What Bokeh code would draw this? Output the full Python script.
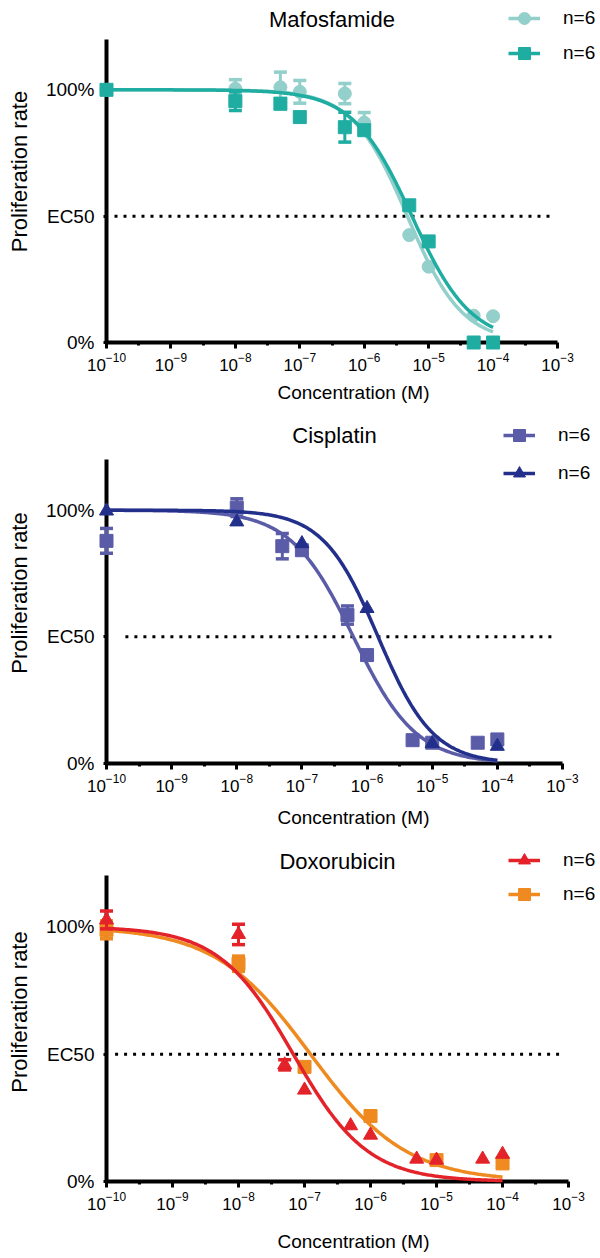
import numpy as np
from bokeh.plotting import figure
from bokeh.layouts import column
from bokeh.models import FixedTicker, Label, Legend, LegendItem, Range1d
from bokeh.embed import file_html
from bokeh.resources import INLINE

FONT = "Liberation Sans"

# ---------------- data ----------------
conc = [1e-10, 1e-8, 5e-8, 1e-7, 5e-7, 1e-6, 5e-6, 1e-5, 5e-5, 1e-4]
conc_six = [1e-10, 1e-8, 1e-7, 1e-6, 1e-5, 1e-4]

# Mafosfamide
maf_light_y = [100, 100.4, 101, 99.2, 98.5, 87.0, 42.5, 30.0, 10.6, 10.4]
maf_light_err = [0, 3.6, 6.0, 4.5, 4.0, 4.0, 0, 0, 0, 0]
maf_dark_y = [100, 95.5, 94.5, 89.2, 85.2, 84.0, 54.3, 40.0, 0, 0]
maf_dark_err = [0, 3.7, 2.0, 0, 5.9, 0, 0, 0, 0, 0]
maf_light_fit = (-5.33, 1.02)   # logEC50, Hill slope
maf_dark_fit = (-5.26, 0.95)

# Cisplatin
cis_sq_y = [87.9, 101.0, 85.8, 84.2, 58.6, 42.8, 9.2, 8.2, 8.2, 9.5]
cis_sq_err = [4.9, 3.5, 5.0, 0, 3.6, 0, 0, 0, 0, 0]
cis_tri_y = [99.7, 95.4, 86.8, 61.2, 7.9, 6.8]
cis_tri_err = [0, 0, 0, 0, 0, 0]
cis_sq_fit = (-6.21, 0.90)
cis_tri_fit = (-5.83, 1.03)

# Doxorubicin
dox_red_y = [102.7, 97.0, 45.8, 35.9, 21.9, 18.2, 8.8, 8.4, 8.8, 10.7]
dox_red_err = [3.5, 4.0, 2.0, 0, 0, 0, 0, 0, 0, 0]
dox_or_y = [98.8, 85.5, 45.0, 25.7, 8.4, 7.1]
dox_or_err = [3.5, 3.0, 0, 0, 0, 0]
dox_red_fit = (-7.17, 0.77)
dox_or_fit = (-6.91, 0.60)

titles = ["Mafosfamide", "Cisplatin", "Doxorubicin"]
legend_label = "n=6"
x_tick_exps = list(range(-10, -2))
y_tick_labels = {0: "0%", 50: "EC50", 100: "100%"}

C_LTEAL = "#93CFCB"
C_TEAL = "#1FADA2"
C_SLATE = "#5A5CA8"
C_NAVY = "#22308C"
C_RED = "#E3222A"
C_ORANGE = "#EE8A20"


def fit_curve(params, x_lo=1e-10, x_hi=1e-4):
    logec50, hill = params
    xs = np.logspace(np.log10(x_lo), np.log10(x_hi), 300)
    ys = 100.0 / (1.0 + 10 ** ((np.log10(xs) - logec50) * hill))
    return xs, ys


def add_series(p, xs, ys, errs, fit, color, marker, size):
    fx, fy = fit_curve(fit)
    line = p.line(fx, fy, line_color=color, line_width=3.5, level="overlay")
    ex = [x for x, e in zip(xs, errs) if e > 0]
    lo = [y - e for y, e in zip(ys, errs) if e > 0]
    hi = [y + e for y, e in zip(ys, errs) if e > 0]
    if ex:
        p.segment(x0=ex, x1=ex, y0=lo, y1=hi, line_color=color, line_width=3, level="overlay")
        p.scatter(ex + ex, lo + hi, marker="dash", size=13, line_color=color,
                  line_width=3.5, level="overlay")
    pts = p.scatter(xs, ys, marker=marker, size=size, fill_color=color,
                    line_color=color, line_width=1, level="overlay")
    return line, pts


def make_panel(title, height, left, bottom, px_per_pct, decade_px, title_y,
               ec50_span, legend_xy, spacing, xlabel_standoff):
    frame_w = 600 - left
    frame_h = height - bottom
    x_end = 10 ** (-10 + frame_w / decade_px)
    y_end = frame_h / px_per_pct
    p = figure(width=600, height=height, x_axis_type="log",
               x_range=Range1d(1e-10, x_end), y_range=Range1d(0, y_end),
               output_backend="svg", toolbar_location=None,
               min_border_left=left, min_border_right=0,
               min_border_top=0, min_border_bottom=bottom)
    p.xgrid.visible = False
    p.ygrid.visible = False
    p.outline_line_color = None
    p.background_fill_color = "white"

    xa = p.xaxis[0]
    xa.ticker = FixedTicker(ticks=[10.0 ** k for k in x_tick_exps],
                            minor_ticks=[10.0 ** (k + 0.5) for k in x_tick_exps[:-1]])
    xa.bounds = (1e-10, 1e-3)
    xa.axis_line_width = 4
    xa.axis_line_color = "black"
    xa.major_tick_line_width = 3
    xa.major_tick_out = 6
    xa.major_tick_in = 0
    xa.minor_tick_line_width = 3
    xa.minor_tick_out = 3
    xa.minor_tick_in = 0
    xa.major_label_text_font = FONT
    xa.major_label_text_font_size = "17px"
    xa.major_label_text_color = "black"
    xa.major_label_standoff = 4
    xa.axis_label = "Concentration (M)"
    xa.axis_label_text_font = FONT
    xa.axis_label_text_font_size = "19px"
    xa.axis_label_text_font_style = "normal"
    xa.axis_label_text_color = "black"
    xa.axis_label_standoff = xlabel_standoff

    ya = p.yaxis[0]
    ya.ticker = FixedTicker(ticks=list(y_tick_labels.keys()))
    ya.major_label_overrides = y_tick_labels
    ya.bounds = (0, 120)
    ya.axis_line_width = 4
    ya.axis_line_color = "black"
    ya.major_tick_line_width = 3
    ya.major_tick_out = 3
    ya.major_tick_in = 0
    ya.minor_tick_line_color = None
    ya.major_label_text_font = FONT
    ya.major_label_text_font_size = "19px"
    ya.major_label_text_color = "black"
    ya.major_label_standoff = 9
    ya.axis_label = "Proliferation rate"
    ya.axis_label_text_font = FONT
    ya.axis_label_text_font_size = "22px"
    ya.axis_label_text_font_style = "normal"
    ya.axis_label_text_color = "black"
    ya.axis_label_standoff = 11

    p.segment(x0=[ec50_span[0]], x1=[ec50_span[1]], y0=[50], y1=[50],
              line_color="black", line_width=3, line_dash="3 6")
    p.add_layout(Label(x=10 ** -6.5, y=title_y, text=title,
                       text_align="center", text_baseline="middle",
                       text_font=FONT, text_font_size="22px", text_color="black"))
    p._legend_args = dict(location=legend_xy, spacing=spacing)
    return p


def add_legend(p, entries):
    args = p._legend_args
    items = [LegendItem(label=legend_label, renderers=list(r)) for r in entries]
    leg = Legend(items=items, location=args["location"], orientation="vertical",
                 glyph_width=32, glyph_height=30, spacing=args["spacing"],
                 padding=0, margin=0, label_standoff=23,
                 label_text_font=FONT, label_text_font_size="19px",
                 label_text_color="black", label_height=30,
                 border_line_alpha=0, background_fill_alpha=0)
    p.add_layout(leg)


# Panel 1: Mafosfamide
p1 = make_panel(titles[0], 422, 106, 80, 2.527, 64.43, 128.0,
                (10 ** -9.876, 10 ** -3.075), (402, 274), 5, 8)
r1a = add_series(p1, conc, maf_light_y, maf_light_err, maf_light_fit, C_LTEAL, "circle", 13)
r1b = add_series(p1, conc, maf_dark_y, maf_dark_err, maf_dark_fit, C_TEAL, "square", 13)
add_legend(p1, [r1a, r1b])

# Panel 2: Cisplatin
p2 = make_panel(titles[1], 420, 106, 79, 2.533, 65.14, 129.5,
                (10 ** -9.71, 10 ** -3.13), (397, 275), 8, 12)
r2a = add_series(p2, conc, cis_sq_y, cis_sq_err, cis_sq_fit, C_SLATE, "square", 13)
r2b = add_series(p2, conc_six, cis_tri_y, cis_tri_err, cis_tri_fit, C_NAVY, "triangle", 14)
add_legend(p2, [r2a, r2b])

# Panel 3: Doxorubicin
p3 = make_panel(titles[2], 414, 105, 75, 2.547, 66.14, 125.8,
                (10 ** -9.87, 10 ** -3.11), (402, 272), 4, 18)
r3b = add_series(p3, conc_six, dox_or_y, dox_or_err, dox_or_fit, C_ORANGE, "square", 13)
r3a = add_series(p3, conc, dox_red_y, dox_red_err, dox_red_fit, C_RED, "triangle", 14)
add_legend(p3, [r3a, r3b])

layout = column(p1, p2, p3, spacing=0)
open("out.html", "w").write(file_html(layout, INLINE))
